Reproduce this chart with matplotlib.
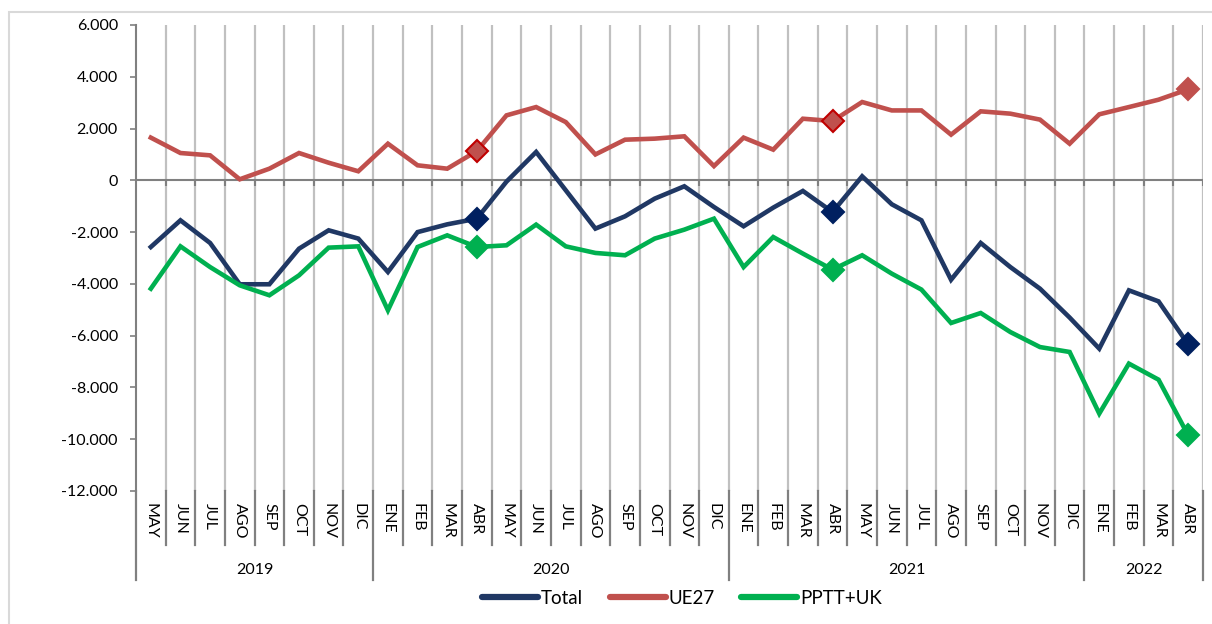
import matplotlib
matplotlib.use("Agg")
import matplotlib.pyplot as plt
from matplotlib.ticker import FuncFormatter, FixedLocator
from matplotlib.patches import Rectangle
import matplotlib.transforms as mtransforms

plt.rcParams['font.family'] = ['Lato', 'DejaVu Sans']

months = ["MAY", "JUN", "JUL", "AGO", "SEP", "OCT", "NOV", "DIC",
          "ENE", "FEB", "MAR", "ABR", "MAY", "JUN", "JUL", "AGO", "SEP", "OCT", "NOV", "DIC",
          "ENE", "FEB", "MAR", "ABR", "MAY", "JUN", "JUL", "AGO", "SEP", "OCT", "NOV", "DIC",
          "ENE", "FEB", "MAR", "ABR"]
years = ["2019", "2020", "2021", "2022"]
year_counts = [8, 12, 12, 4]

total = [-2575, -1545, -2420, -4015, -4015, -2640, -1930, -2250,
         -3540, -2000, -1700, -1480, -50, 1095, -385, -1865, -1390, -707, -230, -1030,
         -1775, -1055, -410, -1225, 155, -925, -1545, -3840, -2420, -3350, -4185, -5300,
         -6500, -4250, -4675, -6335]
ue27 = [1650, 1055, 965, 40, 450, 1055, 680, 350,
        1415, 580, 450, 1130, 2510, 2830, 2250, 1000, 1570, 1610, 1700, 550,
        1650, 1185, 2380, 2290, 3025, 2700, 2700, 1765, 2665, 2575, 2345, 1415,
        2550, 2830, 3115, 3515]
pptt_uk = [-4185, -2550, -3350, -4055, -4440, -3670, -2600, -2550,
           -5020, -2575, -2125, -2575, -2510, -1710, -2550, -2805, -2895, -2250, -1905, -1480,
           -3350, -2190, -2830, -3450, -2895, -3605, -4220, -5510, -5125, -5860, -6440, -6630,
           -9010, -7080, -7700, -9850]
marker_idx = [11, 23, 35]

series = [("Total", total, "#203864", "#002060"),
          ("UE27", ue27, "#c0504d", "#c0504d"),
          ("PPTT+UK", pptt_uk, "#00b050", "#00b050")]

W, H = 1212, 624
fig = plt.figure(figsize=(W / 100, H / 100), dpi=100)
fig.patch.set_facecolor("white")

# outer frame
fig.add_artist(Rectangle((9 / W, -0.1), 1.2, 1 - 12 / H + 0.1, transform=fig.transFigure,
                         fill=False, edgecolor="#d9d9d9", linewidth=1.5))

ax = fig.add_axes([136 / W, 1 - 491 / H, (1203 - 136) / W, (491 - 25) / H])
n = len(months)
xs = [i + 0.5 for i in range(n)]
ax.set_xlim(0, n)
ax.set_ylim(-12000, 6000)

# vertical gridlines at category boundaries
for b in range(1, n + 1):
    ax.axvline(b, color="#c0c0c0", lw=1.6, zorder=1)
ax.axhline(0, color="#808080", lw=1.5, zorder=2)
ax.vlines(range(1, n + 1), -230, 0, color="#808080", lw=1.5, zorder=2)

for name, vals, lc, mc in series:
    ax.plot(xs, vals, color=lc, lw=3.3, solid_joinstyle="miter", label=name, zorder=3)

# markers
for name, vals, lc, mc in series:
    for k, i in enumerate(marker_idx):
        ec = mc
        if name == "UE27" and k < 2:
            ec = "#c00000"
        ax.plot([xs[i]], [vals[i]], marker="D", ms=11.5, mfc=mc, mec=ec, mew=1.5,
                linestyle="none", zorder=4, clip_on=False)

for s in ["top", "right", "bottom"]:
    ax.spines[s].set_visible(False)
ax.spines["left"].set_color("#808080")
ax.spines["left"].set_linewidth(1.5)

ax.yaxis.set_major_locator(FixedLocator(list(range(-12000, 6001, 2000))))
ax.yaxis.set_major_formatter(FuncFormatter(lambda v, p: f"{int(v):,}".replace(",", ".")))
ax.tick_params(axis="y", length=4, width=1.2, color="#808080", pad=9, labelsize=11.5,
               labelcolor="#000000")
ax.set_xticks([])

# category labels and separators below axes
trans = mtransforms.blended_transform_factory(ax.transData, ax.transAxes)
ah = 491 - 25
y_tick_bot = -(545 - 491) / ah
y_year_bot = -(580 - 491) / ah
y_lab_top = -(503 - 491) / ah
y_year = -(570 - 491) / ah
bounds = [0]
for c in year_counts:
    bounds.append(bounds[-1] + c)
for b in range(0, n + 1):
    bot = y_year_bot if b in bounds else y_tick_bot
    ax.plot([b, b], [0, bot], transform=trans, color="#808080", lw=1.6, clip_on=False)
for x, m in zip(xs, months):
    ax.text(x, y_lab_top, m, transform=trans, rotation=-90, ha="center", va="top",
            fontsize=11.5, color="#000000")
for k, yname in enumerate(years):
    cx = (bounds[k] + bounds[k + 1]) / 2
    ax.text(cx, y_year, yname, transform=trans, ha="center", va="center", fontsize=11.5)

leg = fig.legend(loc="center", bbox_to_anchor=(682 / W, 1 - 598 / H), ncol=3, frameon=False,
                 fontsize=13.5, handlelength=3.0, handletextpad=0.15, columnspacing=1.4)
for line in leg.get_lines():
    line.set_linewidth(4.5)
    line.set_solid_capstyle("round")

fig.savefig("out.png", dpi=100, facecolor="white")
